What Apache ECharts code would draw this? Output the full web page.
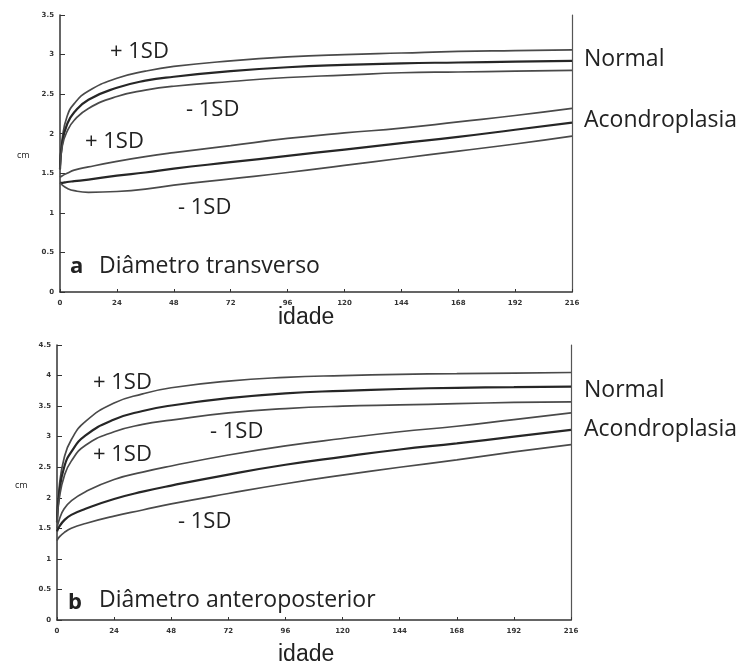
<!DOCTYPE html>
<html>
<head>
<meta charset="utf-8">
<script src="https://cdn.jsdelivr.net/npm/echarts@6/dist/echarts.min.js"></script>
<style>
  html, body { margin: 0; padding: 0; background: #fff; }
</style>
</head>
<body>
<div id="main" style="width:742px;height:671px;"></div>
<script>
// idade (meses)
var ages = [0, 1, 3, 6, 12, 24, 36, 48, 72, 96, 120, 144, 168, 192, 216];
var xTicks = [0, 24, 48, 72, 96, 120, 144, 168, 192, 216];

// a - diametro transverso
var aNormalHi = [1.55, 1.95, 2.22, 2.38, 2.54, 2.70, 2.79, 2.85, 2.92, 2.97, 3.00, 3.02, 3.04, 3.05, 3.06];
var aNormalMean = [1.55, 1.90, 2.12, 2.27, 2.43, 2.58, 2.67, 2.72, 2.79, 2.84, 2.87, 2.89, 2.90, 2.91, 2.92];
var aNormalLo = [1.55, 1.85, 2.03, 2.17, 2.32, 2.47, 2.55, 2.60, 2.66, 2.71, 2.74, 2.77, 2.78, 2.79, 2.80];
var aAchHi = [1.45, 1.47, 1.50, 1.54, 1.58, 1.65, 1.71, 1.76, 1.85, 1.94, 2.01, 2.07, 2.15, 2.23, 2.32];
var aAchMean = [1.38, 1.38, 1.39, 1.40, 1.42, 1.47, 1.51, 1.56, 1.64, 1.72, 1.80, 1.88, 1.96, 2.05, 2.14];
var aAchLo = [1.38, 1.35, 1.31, 1.28, 1.26, 1.27, 1.30, 1.35, 1.43, 1.51, 1.60, 1.69, 1.78, 1.87, 1.97];

// b - diametro anteroposterior
var bNormalHi = [1.60, 2.20, 2.65, 2.95, 3.25, 3.55, 3.70, 3.80, 3.91, 3.97, 4.00, 4.02, 4.03, 4.04, 4.05];
var bNormalMean = [1.60, 2.10, 2.50, 2.75, 3.02, 3.28, 3.42, 3.51, 3.63, 3.71, 3.75, 3.78, 3.80, 3.81, 3.82];
var bNormalLo = [1.60, 2.00, 2.35, 2.60, 2.86, 3.08, 3.20, 3.27, 3.39, 3.46, 3.50, 3.52, 3.54, 3.56, 3.57];
var bAchHi = [1.50, 1.65, 1.82, 1.95, 2.10, 2.30, 2.42, 2.52, 2.70, 2.85, 2.97, 3.08, 3.17, 3.28, 3.39];
var bAchMean = [1.45, 1.53, 1.63, 1.72, 1.82, 1.98, 2.10, 2.20, 2.38, 2.54, 2.67, 2.79, 2.89, 3.00, 3.11];
var bAchLo = [1.30, 1.36, 1.43, 1.50, 1.58, 1.70, 1.80, 1.90, 2.07, 2.23, 2.37, 2.50, 2.62, 2.75, 2.87];

function pairs(vals) {
  return ages.map(function (a, i) { return [a, vals[i]]; });
}

function curve(name, vals, idx, isMean) {
  return {
    name: name,
    type: "line",
    xAxisIndex: idx,
    yAxisIndex: idx * 2,
    data: pairs(vals),
    smooth: 0.5,
    showSymbol: false,
    lineStyle: { color: isMean ? "#262626" : "#4a4a4a", width: isMean ? 2.2 : 1.7 },
    silent: true
  };
}

var tickLabel = { fontSize: 7, color: "#333", fontFamily: "DejaVu Sans", fontWeight: "bold" };
var labelFont = "'Open Sans', sans-serif";

function xAx(idx) {
  return {
    type: "value",
    gridIndex: idx,
    min: 0,
    max: 216,
    interval: 24,
    axisLine: { lineStyle: { color: "#333", width: 1.5 } },
    axisTick: { show: true, inside: true, length: 3, lineStyle: { color: "#333" } },
    axisLabel: Object.assign({ margin: 8 }, tickLabel),
    splitLine: { show: false }
  };
}

function yAx(idx, max) {
  return [
    {
      type: "value",
      gridIndex: idx,
      min: 0,
      max: max,
      interval: 0.5,
      axisLine: { show: true, lineStyle: { color: "#333", width: 1.5 } },
      axisTick: { show: true, inside: true, length: 5, lineStyle: { color: "#333" } },
      axisLabel: Object.assign({ margin: 6 }, tickLabel),
      splitLine: { show: false }
    },
    {
      // linha vertical a direita
      type: "value",
      gridIndex: idx,
      position: "right",
      min: 0,
      max: max,
      axisLine: { show: true, lineStyle: { color: "#555", width: 1.2 } },
      axisTick: { show: false },
      axisLabel: { show: false },
      splitLine: { show: false }
    }
  ];
}

// texto com centro vertical em y
function txt(x, y, s, size, extra) {
  return {
    type: "text",
    x: x,
    y: y,
    style: Object.assign({
      text: s,
      fill: "#222",
      font: size + "px " + labelFont,
      verticalAlign: "middle"
    }, extra || {})
  };
}

var myChart = echarts.init(document.getElementById("main"));

var option = {
  backgroundColor: "#fff",
  animation: false,
  grid: [
    { left: 60, right: 170, top: 15, bottom: 379 },
    { left: 57, right: 171, top: 345, bottom: 51 }
  ],
  xAxis: [xAx(0), xAx(1)],
  yAxis: yAx(0, 3.5).concat(yAx(1, 4.5)),
  series: [
    curve("a +1SD normal", aNormalHi, 0, false),
    curve("a normal", aNormalMean, 0, true),
    curve("a -1SD normal", aNormalLo, 0, false),
    curve("a +1SD acondroplasia", aAchHi, 0, false),
    curve("a acondroplasia", aAchMean, 0, true),
    curve("a -1SD acondroplasia", aAchLo, 0, false),
    curve("b +1SD normal", bNormalHi, 1, false),
    curve("b normal", bNormalMean, 1, true),
    curve("b -1SD normal", bNormalLo, 1, false),
    curve("b +1SD acondroplasia", bAchHi, 1, false),
    curve("b acondroplasia", bAchMean, 1, true),
    curve("b -1SD acondroplasia", bAchLo, 1, false)
  ],
  graphic: [
    // painel a
    txt(110, 52, "+ 1SD", 22),
    txt(186, 110, "- 1SD", 22),
    txt(85, 142, "+ 1SD", 22),
    txt(178, 208, "- 1SD", 22),
    txt(584, 59, "Normal", 23),
    txt(584, 120, "Acondroplasia", 23),
    txt(17, 155, "cm", 9),
    txt(70, 267, "a", 22, { font: "bold 22px " + labelFont }),
    txt(99, 266, "Diâmetro transverso", 23),
    txt(278, 318, "idade", 23, { font: "23px 'Liberation Sans', Arial, sans-serif" }),
    // painel b
    txt(93, 383, "+ 1SD", 22),
    txt(210, 432, "- 1SD", 22),
    txt(93, 455, "+ 1SD", 22),
    txt(178, 522, "- 1SD", 22),
    txt(584, 390, "Normal", 23),
    txt(584, 429, "Acondroplasia", 23),
    txt(15, 485, "cm", 9),
    txt(68, 603, "b", 22, { font: "bold 22px " + labelFont }),
    txt(99, 600, "Diâmetro anteroposterior", 23),
    txt(278, 655, "idade", 23, { font: "23px 'Liberation Sans', Arial, sans-serif" })
  ]
};

myChart.setOption(option);
</script>
</body>
</html>
